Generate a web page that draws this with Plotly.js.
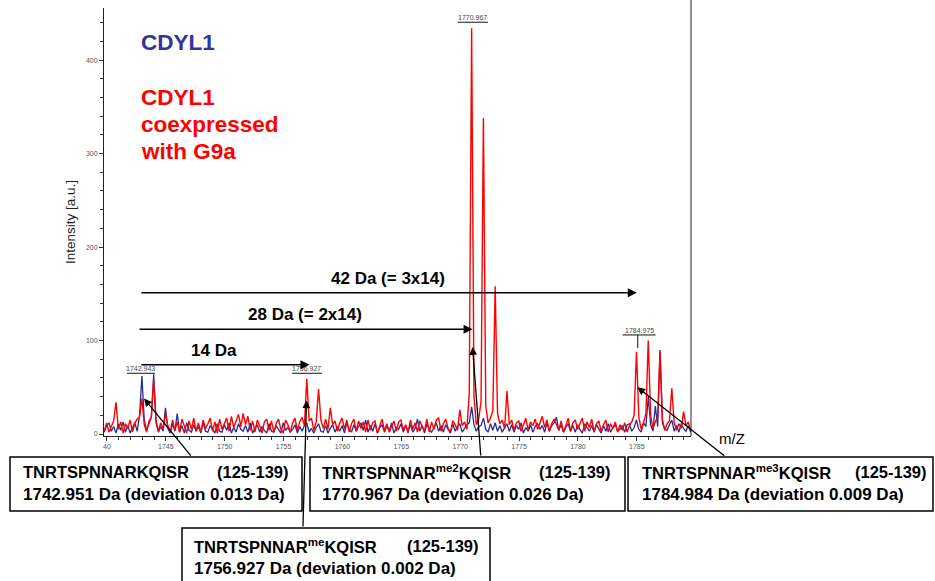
<!DOCTYPE html>
<html>
<head>
<meta charset="utf-8">
<script src="https://cdn.plot.ly/plotly-3.0.1.min.js"></script>
<style>html,body{margin:0;padding:0;background:#fff;}#chart{width:935px;height:581px;}</style>
</head>
<body>
<div id="chart"></div>
<script>
// m/z grid start and step (Da)
const mzStart = 1739.77;
const mzStep = 0.2;

// CDYL1 (blue) intensities [a.u.]
const cdyl1 = [
  2, 9, 12, 3, 8, 1, 11, 4, 13, 2,
  9, 1, 7, 12, 3, 20, 62, 15, 4, 10,
  18, 64, 12, 2, 8, 3, 28, 6, 1, 11,
  3, 22, 2, 9, 1, 12, 4, 2, 10, 3,
  8, 1, 12, 3, 2, 9, 5, 1, 11, 3,
  2, 10, 4, 12, 1, 7, 2, 11, 5, 3,
  9, 2, 12, 1, 6, 10, 2, 8, 4, 1,
  11, 3, 2, 9, 5, 1, 12, 4, 7, 2,
  5, 10, 1, 8, 3, 9, 12, 2, 6, 1,
  7, 11, 3, 2, 9, 1, 6, 10, 2, 8,
  3, 9, 1, 12, 5, 2, 10, 3, 8, 12,
  4, 15, 2, 9, 3, 11, 1, 7, 10, 2,
  9, 3, 12, 1, 7, 5, 11, 2, 9, 3,
  10, 2, 6, 16, 3, 9, 1, 11, 5, 2,
  7, 12, 3, 9, 2, 10, 5, 1, 11, 3,
  8, 11, 2, 6, 10, 12, 29, 10, 3, 8,
  9, 17, 5, 2, 11, 4, 12, 3, 9, 2,
  7, 11, 3, 10, 2, 9, 5, 12, 1, 7,
  3, 10, 2, 8, 11, 5, 9, 2, 12, 3,
  9, 12, 18, 4, 10, 2, 7, 11, 3, 9,
  2, 10, 5, 1, 11, 7, 3, 9, 2, 10,
  5, 1, 9, 3, 11, 2, 7, 10, 3, 5,
  9, 2, 10, 11, 3, 7, 15, 5, 2, 12,
  8, 40, 10, 3, 30, 8, 90, 12, 5, 4,
  10, 15, 3, 9, 2, 11, 6, 3, 9, 2
];

// CDYL1 coexpressed with G9a (red) intensities [a.u.]
const cdyl1G9a = [
  3, 12, 2, 9, 14, 34, 5, 13, 1, 11,
  6, 15, 2, 12, 16, 18, 38, 10, 2, 14,
  18, 58, 14, 3, 12, 5, 22, 9, 2, 15,
  4, 13, 2, 16, 7, 1, 14, 5, 17, 3,
  12, 2, 15, 6, 11, 17, 3, 13, 1, 16,
  5, 12, 17, 3, 19, 7, 14, 21, 8, 22,
  10, 19, 4, 14, 2, 15, 9, 1, 13, 16,
  4, 14, 2, 11, 16, 5, 1, 15, 10, 2,
  12, 17, 4, 13, 18, 9, 59, 14, 17, 4,
  13, 48, 15, 6, 16, 5, 28, 10, 14, 3,
  12, 17, 5, 15, 2, 11, 16, 3, 14, 6,
  13, 2, 15, 4, 12, 14, 1, 10, 16, 3,
  11, 2, 9, 14, 3, 13, 15, 4, 10, 1,
  15, 5, 12, 2, 14, 9, 3, 16, 2, 13,
  5, 15, 17, 3, 11, 16, 6, 2, 14, 10,
  4, 26, 9, 13, 5, 45, 434, 40, 10, 16,
  35, 338, 30, 12, 17, 25, 158, 22, 11, 15,
  6, 46, 10, 15, 4, 12, 14, 3, 10, 17,
  4, 13, 9, 16, 5, 12, 19, 7, 15, 3,
  11, 16, 10, 4, 14, 2, 9, 17, 3, 12,
  15, 5, 11, 17, 3, 13, 7, 16, 2, 11,
  14, 3, 10, 15, 2, 11, 6, 13, 2, 10,
  4, 12, 2, 9, 13, 20, 88, 18, 5, 12,
  22, 100, 20, 6, 13, 18, 88, 16, 4, 11,
  14, 49, 12, 4, 11, 6, 24, 9, 13, 4
];

// Peak labels
const peakMz = [1742.89, 1756.98, 1771.05, 1785.2];
const peakText = ["1742.943", "1756.927", "1770.967", "1784.975"];

// Mass shift arrows
const shiftText = ["14 Da", "28 Da (= 2x14)", "42 Da (= 3x14)"];
const shiftFrom = [1742.8, 1742.64, 1742.8];
const shiftTo = [1757.2, 1771.05, 1785.0];
const shiftY = [74, 112, 151];

// Peptide boxes
const pepName = ["TNRTSPNNARKQISR", "TNRTSPNNAR<sup>me</sup>KQISR", "TNRTSPNNAR<sup>me2</sup>KQISR", "TNRTSPNNAR<sup>me3</sup>KQISR"];
const pepRange = ["(125-139)", "(125-139)", "(125-139)", "(125-139)"];
const pepMass = ["1742.951 Da (deviation 0.013 Da)", "1756.927 Da (deviation 0.002 Da)", "1770.967 Da (deviation 0.026 Da)", "1784.984 Da (deviation 0.009 Da)"];
const pepPeakMz = [1743.15, 1756.95, 1771.05, 1785.05];
const pepPeakY = [38, 36, 93, 50];

// pixel geometry of plot area
const PX0 = 104, PW = 587, PY0 = 8, PH = 428;
const px = v => (v - PX0) / PW;
const py = v => (PY0 + PH - v) / PH;

const FONT = "Arial, 'Liberation Sans', sans-serif";
const traces = [
  {type: 'scatter', mode: 'lines', x0: mzStart, dx: mzStep, y: cdyl1, name: 'CDYL1',
   line: {color: '#2b2b96', width: 1.3}, hoverinfo: 'skip'},
  {type: 'scatter', mode: 'lines', x0: mzStart, dx: mzStep, y: cdyl1G9a, name: 'CDYL1 + G9a',
   line: {color: '#ff0000', width: 1.4}, hoverinfo: 'skip'}
];

const shapes = [];
const annotations = [];

// right frame line
shapes.push({type: 'line', xref: 'paper', yref: 'paper', x0: 1, x1: 1, y0: 0, y1: py(0), line: {color: '#222', width: 1}});

// peak labels
const labelLine = [[1741.7, 1744.08, 65], [1755.71, 1758.26, 65], [1769.8, 1772.35, 440.5], [1783.8, 1786.6, 106]];
peakText.forEach((t, i) => {
  const L = labelLine[i];
  shapes.push({type: 'line', xref: 'x', yref: 'y', x0: L[0], x1: L[1], y0: L[2], y1: L[2], line: {color: '#111', width: 1}});
  annotations.push({xref: 'x', yref: 'y', x: peakMz[i], y: L[2], text: t, showarrow: false,
    yanchor: 'bottom', yshift: -1, font: {family: FONT, size: 7, color: '#444'}});
});
shapes.push({type: 'line', xref: 'x', yref: 'y', x0: 1785.08, x1: 1785.08, y0: 106, y1: 92, line: {color: '#111', width: 1}});

// mass shift arrows
shiftText.forEach((t, i) => {
  annotations.push({xref: 'x', yref: 'y', axref: 'x', ayref: 'y', x: shiftTo[i], y: shiftY[i],
    ax: shiftFrom[i], ay: shiftY[i], text: '', showarrow: true, arrowhead: 2, arrowsize: 1.2,
    arrowwidth: 1.5, arrowcolor: '#000'});
  annotations.push({xref: 'x', yref: 'y', x: (shiftFrom[i] + shiftTo[i]) / 2 - (i === 0 ? 0.9 : 0), y: shiftY[i],
    text: '<b>' + t + '</b>', showarrow: false, yanchor: 'bottom', yshift: 3,
    font: {family: FONT, size: 17, color: '#000'}});
});

// legend-like titles
annotations.push({xref: 'paper', yref: 'paper', x: px(139), y: py(43), xanchor: 'left', yanchor: 'middle',
  text: '<b>CDYL1</b>', showarrow: false, font: {family: FONT, size: 22.5, color: '#33339a'}});
['CDYL1', 'coexpressed', 'with G9a'].forEach((t, i) => {
  annotations.push({xref: 'paper', yref: 'paper', x: px(139), y: py(97 + 27 * i), xanchor: 'left', yanchor: 'middle',
    text: '<b>' + t + '</b>', showarrow: false, font: {family: FONT, size: 22.5, color: '#ff0000'}});
});

// m/Z label
annotations.push({xref: 'paper', yref: 'paper', x: px(717), y: py(438), xanchor: 'left', yanchor: 'middle',
  text: 'm/Z', showarrow: false, font: {family: FONT, size: 15, color: '#000'}});

// peptide boxes: [left, top, right, bottom, text left, range right, line1 y, line2 y, tail x, tail y]
const boxes = [
  [10, 457, 302, 511, 21, 291, 472, 494, 192, 457],
  [182, 528, 490, 590, 192, 481, 546, 568, 303, 528],
  [310, 457, 625, 511, 320, 613, 472, 494, 481, 457],
  [628, 457, 933, 511, 640, 929, 472, 494, 726, 457]
];
boxes.forEach((b, i) => {
  shapes.push({type: 'rect', xref: 'paper', yref: 'paper', x0: px(b[0]), x1: px(b[2]), y0: py(b[1]), y1: py(b[3]),
    line: {color: '#000', width: 1.5}, fillcolor: 'rgba(0,0,0,0)'});
  annotations.push({xref: 'paper', yref: 'paper', x: px(b[4]), y: py(b[6]), xanchor: 'left', yanchor: 'middle',
    text: '<b>' + pepName[i] + '</b>', showarrow: false, font: {family: FONT, size: 16.5, color: '#000'}});
  annotations.push({xref: 'paper', yref: 'paper', x: px(b[5]), y: py(b[6]), xanchor: 'right', yanchor: 'middle',
    text: '<b>' + pepRange[i] + '</b>', showarrow: false, font: {family: FONT, size: 16.5, color: '#000'}});
  annotations.push({xref: 'paper', yref: 'paper', x: px(b[4]), y: py(b[7]), xanchor: 'left', yanchor: 'middle',
    text: '<b>' + pepMass[i] + '</b>', showarrow: false, font: {family: FONT, size: 17, color: '#000'}});
});
// connector arrows from boxes to peaks
boxes.forEach((b, i) => {
  const tipX = PX0 + (pepPeakMz[i] - 1739.75) * 11.78;
  const tipY = PY0 + PH - 2 - pepPeakY[i] * 0.935;
  annotations.push({xref: 'x', yref: 'y', x: pepPeakMz[i], y: pepPeakY[i], text: '', showarrow: true,
    ax: b[8] - tipX, ay: b[9] - tipY, arrowhead: 2, arrowsize: 1.2, arrowwidth: 1.3, arrowcolor: '#000'});
});

const layout = {
  width: 935, height: 581,
  margin: {l: PX0, r: 935 - PX0 - PW, t: PY0, b: 581 - PY0 - PH},
  paper_bgcolor: '#fff', plot_bgcolor: '#fff',
  showlegend: false,
  font: {family: FONT},
  xaxis: {
    range: [1739.75, 1789.6], showgrid: false, zeroline: false,
    showline: true, linecolor: '#222', linewidth: 1,
    ticks: 'outside', ticklen: 4, tickcolor: '#333', tick0: 1740, dtick: 5,
    labelalias: {'1740': '40'},
    minor: {dtick: 1, ticks: 'outside', ticklen: 3, tickcolor: '#333'},
    tickfont: {family: FONT, size: 7, color: '#555'}
  },
  yaxis: {
    range: [-2.1, 455.7], showgrid: false, zeroline: false,
    showline: true, linecolor: '#222', linewidth: 1,
    ticks: 'outside', ticklen: 4, tickcolor: '#333', tick0: 0, dtick: 100,
    minor: {dtick: 20, ticks: 'outside', ticklen: 3, tickcolor: '#333'},
    tickfont: {family: FONT, size: 7, color: '#555'},
    title: {text: 'Intensity [a.u.]', standoff: 7, font: {family: FONT, size: 13.5, color: '#222'}}
  },
  shapes: shapes,
  annotations: annotations
};

Plotly.newPlot('chart', traces, layout, {staticPlot: true, displayModeBar: false});
</script>
</body>
</html>
